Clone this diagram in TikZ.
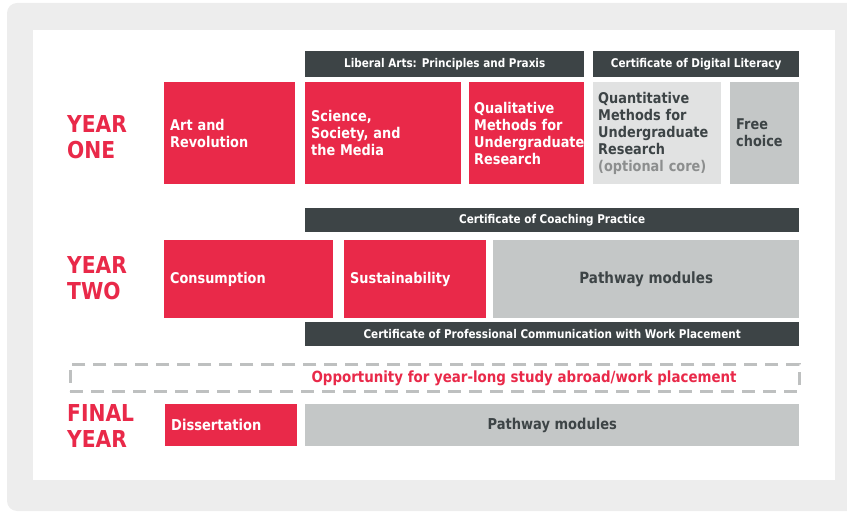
\documentclass[tikz,border=0pt]{standalone}
\usepackage{fontspec}
\setmainfont{DejaVu Sans}[FakeStretch=0.87]
\usetikzlibrary{positioning}
\definecolor{uniRed}{HTML}{E92949}
\definecolor{uniDark}{HTML}{3D4446}
\definecolor{uniGrey}{HTML}{C4C7C7}
\definecolor{uniLight}{HTML}{E1E2E2}
\definecolor{uniBack}{HTML}{EDEDED}
\definecolor{uniDash}{HTML}{BEC0C0}
\definecolor{uniMute}{HTML}{8C8E8E}

\begin{document}
\begin{tikzpicture}[
    x=1pt, y=-1pt,
    every node/.style={anchor=north west, inner ysep=0pt},
    module/.style={inner xsep=6pt, align=left, font=\bfseries\fontsize{14.8}{17}\selectfont},
    core/.style={module, fill=uniRed, text=white},
    option/.style={module, fill=uniGrey, text=uniDark},
    certbar/.style={fill=uniDark, text=white, align=center, font=\bfseries\fontsize{12}{14}\selectfont},
    pathway/.style={fill=uniGrey, text=uniDark, align=center, font=\bfseries\fontsize{15.5}{18}\selectfont},
    yearlabel/.style={anchor=west, inner sep=0pt, text=uniRed, align=left, font=\bfseries\fontsize{23.3}{26}\selectfont}
]
    \useasboundingbox (0,0) rectangle (847,513);

    % Frame
    \fill[uniBack, rounded corners=10pt] (7,3) rectangle (880,511);
    \fill[white] (33,30) rectangle (835,480);

    % Year one
    \node[yearlabel] (y1) at (67,137) {YEAR\\ONE};
    \node[core, text width=119pt, minimum height=102pt] (art) at (164,82) {Art and\\Revolution};
    \node[certbar, minimum width=279pt, minimum height=26pt] (liberal) at (305,51) {Liberal Arts: Principles and Praxis};
    \node[core, text width=144pt, minimum height=102pt] (science) at (305,82) {Science,\\Society, and\\the Media};
    \node[core, inner xsep=5pt, text width=105pt, minimum height=102pt] (qual) at (469,82) {Qualitative\\Methods for\\Undergraduate\\Research};
    \node[certbar, minimum width=206pt, minimum height=26pt] (digital) at (593,51) {Certificate of Digital Literacy};
    \node[option, fill=uniLight, inner xsep=5pt, text width=118pt, minimum height=102pt] (quant) at (593,82) {Quantitative\\Methods for\\Undergraduate\\Research\\\textcolor{uniMute}{(optional core)}};
    \node[option, text width=57pt, minimum height=102pt] (free) at (730,82) {Free\\choice};

    % Year two
    \node[yearlabel] (y2) at (67,278) {YEAR\\TWO};
    \node[certbar, minimum width=494pt, minimum height=24pt] (coaching) at (305,208) {Certificate of Coaching Practice};
    \node[core, text width=157pt, minimum height=78pt] (consumption) at (164,240) {Consumption};
    \node[core, text width=130pt, minimum height=78pt] (sustain) at (344,240) {Sustainability};
    \node[pathway, minimum width=306pt, minimum height=78pt] (path2) at (493,240) {Pathway modules};
    \node[certbar, minimum width=494pt, minimum height=24pt] (profcomm) at (305,322) {Certificate of Professional Communication with Work Placement};

    % Year abroad
    \node[draw=uniDash, line width=2.8pt, dash pattern=on 13pt off 8pt, minimum width=729pt, minimum height=27pt] (abroad) at (69,363) {};
    \node[anchor=east, inner sep=0pt, text=uniRed, font=\bfseries\fontsize{15.4}{18}\selectfont] (abroadtext) at ([xshift=-64pt]abroad.east) {Opportunity for year-long study abroad/work placement};

    % Final year
    \node[yearlabel] (y3) at (67,426) {FINAL\\YEAR};
    \node[core, font=\bfseries\fontsize{15}{18}\selectfont, text width=120pt, minimum height=42pt] (diss) at (165,404) {Dissertation};
    \node[pathway, font=\bfseries\fontsize{15}{18}\selectfont, minimum width=494pt, minimum height=42pt] (path3) at (305,404) {Pathway modules};
\end{tikzpicture}
\end{document}
